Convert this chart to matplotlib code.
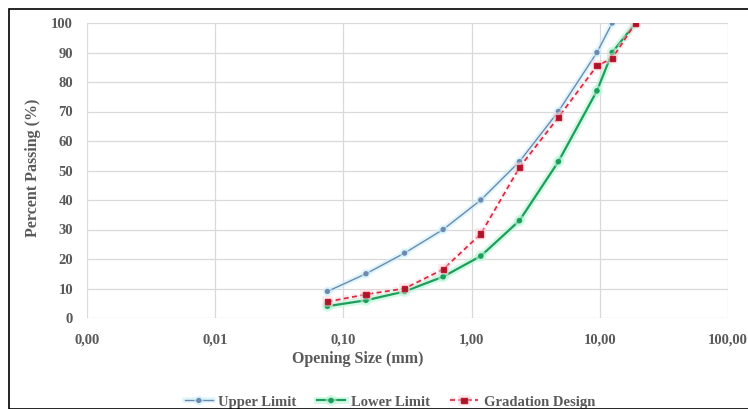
import matplotlib
matplotlib.use("Agg")
import matplotlib.pyplot as plt
import matplotlib.patheffects as pe
from matplotlib.ticker import FixedLocator, FuncFormatter, NullLocator
from matplotlib.patches import Rectangle

sieve_mm = [0.075, 0.15, 0.3, 0.6, 1.18, 2.36, 4.75, 9.5, 12.5, 19.0]
upper_sieve = [0.075, 0.15, 0.3, 0.6, 1.18, 2.36, 4.75, 9.5, 12.5]
upper_limit = [9, 15, 22, 30, 40, 53, 70, 90, 100]
lower_limit = [4, 6, 9, 14, 21, 33, 53, 77, 90, 100]
gradation = [5.5, 8, 10, 16.5, 28.5, 51, 68, 85.5, 88, 100]
x_ticks = [0.001, 0.01, 0.1, 1, 10, 100]
y_ticks = list(range(0, 101, 10))

W, H = 748, 409
fig = plt.figure(figsize=(W / 100, H / 100), dpi=100)
ax = fig.add_axes([87 / W, 1 - 318 / H, (728 - 87) / W, (318 - 23) / H])

font = dict(family="Liberation Serif", weight="bold", color="#595959")

glow_blue = [pe.Stroke(linewidth=4, foreground="#c8f0f8", alpha=0.6), pe.Normal()]
glow_green = [pe.Stroke(linewidth=5, foreground="#b8f5d8", alpha=0.6), pe.Normal()]
glow_red = [pe.Stroke(linewidth=4, foreground="#fad0d8", alpha=0.5), pe.Normal()]

ax.plot(upper_sieve, upper_limit, color="#7088b0", lw=1.0, marker="o", ms=2.8,
        mfc="#7088b0", mec="#7088b0", label="Upper Limit", path_effects=glow_blue, zorder=3)
ax.plot(sieve_mm, lower_limit, color="#1e9e5a", lw=1.6, marker="o", ms=3.0,
        mfc="#1e9e5a", mec="#1e9e5a", label="Lower Limit", path_effects=glow_green, zorder=4)
ax.plot(sieve_mm, gradation, color="#d9263c", lw=1.2, ls=(0, (3, 2)), marker="s", ms=3.8,
        mfc="#a5162a", mec="#c0182e", label="Gradation Design", path_effects=glow_red, zorder=5)

ax.set_xscale("log")
ax.set_xlim(0.001, 100)
ax.set_ylim(0, 100)
ax.xaxis.set_major_locator(FixedLocator(x_ticks))
ax.xaxis.set_minor_locator(NullLocator())
ax.xaxis.set_major_formatter(FuncFormatter(lambda v, p: f"{v:.2f}".replace(".", ",")))
ax.set_yticks(y_ticks)

ax.grid(True, which="major", color="#d9d9d9", lw=0.9)
ax.set_axisbelow(True)
for s in ax.spines.values():
    s.set_visible(False)
ax.tick_params(length=0, labelsize=10.5, pad=11)
ax.tick_params(axis="y", pad=10)
for lab in ax.get_xticklabels() + ax.get_yticklabels():
    lab.set_fontfamily("Liberation Serif")
    lab.set_fontweight("bold")
    lab.set_color("#595959")

ax.set_xlabel("Opening Size (mm)", fontsize=11.5, **font)
ax.set_ylabel("Percent Passing (%)", fontsize=11.5, **font)
ax.xaxis.set_label_coords((358 - 87) / 641, -(359 - 318) / 295)
ax.yaxis.set_label_coords(-(87 - 33) / 641, (318 - 168) / 295)
ax.xaxis.label.set_va("center")
ax.yaxis.label.set_va("center")

leg = fig.legend(loc="center", bbox_to_anchor=(390 / W, 1 - 402 / H), ncol=3, frameon=False,
                 prop=dict(family="Liberation Serif", weight="bold", size=10.5),
                 handlelength=1.9, columnspacing=1.4, handletextpad=0.4,
                 borderpad=0.0)
for t in leg.get_texts():
    t.set_color("#595959")

fig.patches.append(Rectangle((9 / W, 0.0), (W - 8) / W, 1 - 9 / H, transform=fig.transFigure,
                             fill=False, edgecolor="black", lw=1.2, zorder=10))

fig.savefig("out.png", dpi=100)
